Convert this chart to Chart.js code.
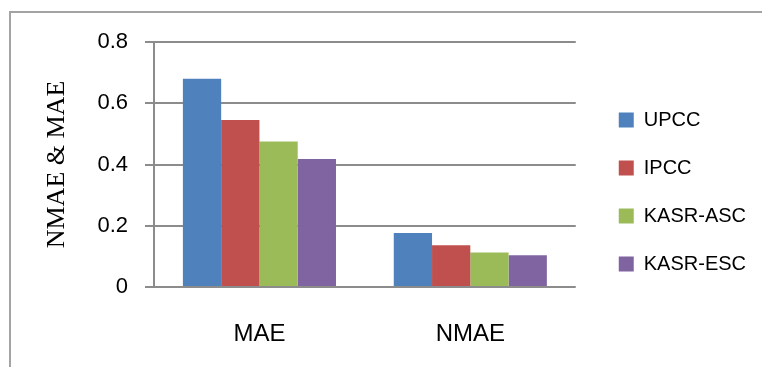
<!DOCTYPE html>
<html>
<head>
<meta charset="utf-8">
<script src="https://cdn.jsdelivr.net/npm/chart.js@4.4.0/dist/chart.umd.min.js"></script>
<style>
  html, body { margin: 0; padding: 0; background: #ffffff; overflow: hidden; }
  #wrap { position: relative; width: 762px; height: 367px; }
  #frame { position: absolute; left: 9px; top: 11px; width: 800px; height: 400px; border: 2px solid #a3a3a3; box-sizing: border-box; }
  canvas { position: absolute; left: 0; top: 0; }
</style>
</head>
<body>
<div id="wrap">
  <div id="frame"></div>
  <canvas id="c" width="762" height="367"></canvas>
</div>
<script>
const categories = ["MAE", "NMAE"];
const seriesNames = ["UPCC", "IPCC", "KASR-ASC", "KASR-ESC"];
const upcc = [0.68, 0.176];
const ipcc = [0.545, 0.136];
const kasrAsc = [0.475, 0.113];
const kasrEsc = [0.418, 0.104];
const yTicks = [0, 0.2, 0.4, 0.6, 0.8];
const yTitle = "NMAE & MAE";

const colors = ["#4F81BD", "#C0504D", "#9BBB59", "#8064A2"];
const seriesValues = [upcc, ipcc, kasrAsc, kasrEsc];

const shiftLegend = {
  id: 'shiftLegend',
  afterLayout(chart) {
    const lg = chart.legend;
    if (lg) { lg.left += 15; lg.right += 15; }
  }
};

new Chart(document.getElementById('c'), {
  type: 'bar',
  data: {
    labels: categories,
    datasets: seriesNames.map((n, i) => ({
      label: n,
      data: seriesValues[i],
      backgroundColor: colors[i],
      borderWidth: 0,
      categoryPercentage: 0.726,
      barPercentage: 1.0
    }))
  },
  options: {
    responsive: false,
    devicePixelRatio: 1,
    animation: false,
    layout: { padding: { top: 42, bottom: 25, left: 0, right: 21 } },
    plugins: {
      tooltip: { enabled: false },
      legend: {
        position: 'right',
        align: 'center',
        labels: {
          boxWidth: 15,
          boxHeight: 15,
          padding: 28,
          color: '#000000',
          font: { family: 'Liberation Sans, Arial, sans-serif', size: 20 }
        }
      }
    },
    scales: {
      x: {
        grid: { display: false },
        border: { display: false },
        ticks: {
          color: '#000000',
          padding: 25,
          font: { family: 'Liberation Sans, Arial, sans-serif', size: 24 }
        },
        afterFit(s) { s.height = 55; }
      },
      y: {
        min: 0,
        max: 0.8,
        afterBuildTicks(s) { s.ticks = yTicks.map(v => ({ value: v })); },
        grid: { color: '#8c8c8c', lineWidth: 2, tickLength: 9, tickColor: '#8c8c8c' },
        border: { display: true, color: '#8c8c8c', width: 2 },
        ticks: {
          color: '#000000',
          padding: 17,
          font: { family: 'Liberation Sans, Arial, sans-serif', size: 22 }
        },
        title: {
          display: true,
          text: yTitle,
          color: '#000000',
          padding: { top: 42, bottom: 0 },
          font: { family: 'Liberation Serif, Times New Roman, serif', size: 26 }
        },
        afterFit(s) { s.width = 154; }
      }
    }
  },
  plugins: [shiftLegend]
});
</script>
</body>
</html>
